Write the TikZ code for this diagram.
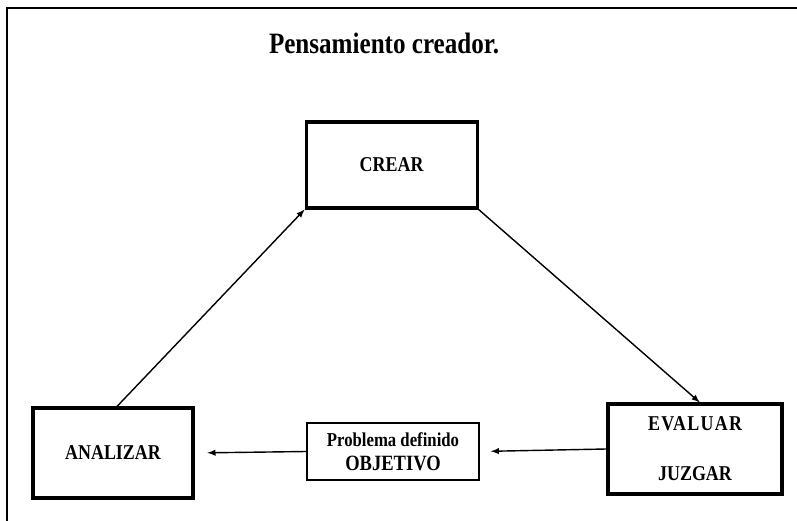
\documentclass[tikz,border=0pt]{standalone}
\usepackage{fontspec}
\setmainfont{Liberation Serif}
\newfontfamily\condfont[FakeStretch=0.85]{Liberation Serif}
\begin{document}
\begin{tikzpicture}[
    box/.style={rectangle, draw, line width=2.2pt, minimum width=4.0cm, minimum height=2.25cm, align=center, font=\condfont\bfseries\fontsize{15}{17}\selectfont},
    thinbox/.style={rectangle, draw, line width=0.8pt, minimum width=4.3cm, minimum height=1.425cm, align=center, font=\condfont\bfseries\fontsize{14}{17}\selectfont},
    arrow/.style={-latex, line width=1pt},
    frame/.style={line width=1pt}
]
    \useasboundingbox (0,0) rectangle (19.925,13.025);
    \draw[frame] (19.925,12.825) -- (0.175,12.825) -- (0.175,0);

    \node (title) at (9.6,11.95) [font=\condfont\bfseries\fontsize{21}{23}\selectfont] {Pensamiento creador.};

    \node (crear) at (9.79,8.9) [box, minimum width=4.275cm, minimum height=2.15cm] {CREAR};
    \node (analizar) at (2.825,1.7) [box] {ANALIZAR};
    \node (evaluar) at (17.375,1.8) [box, minimum width=4.35cm] {{\addfontfeature{LetterSpace=6}EVALUAR}\\[6.5mm]JUZGAR};
    \node (problema) at (9.825,1.7375) [thinbox] {Problema definido\\{\fontsize{15.5}{17}\selectfont OBJETIVO}};

    \draw[arrow] ([xshift=0.1cm]analizar.north) -- (crear.south west);
    \draw[arrow] (crear.south east) -- ([xshift=0.12cm]evaluar.north);
    \draw[arrow, shorten >=0.28cm] (evaluar.west) -- (problema.east);
    \draw[arrow, shorten >=0.32cm] (problema.west) -- (analizar.east);
\end{tikzpicture}
\end{document}
